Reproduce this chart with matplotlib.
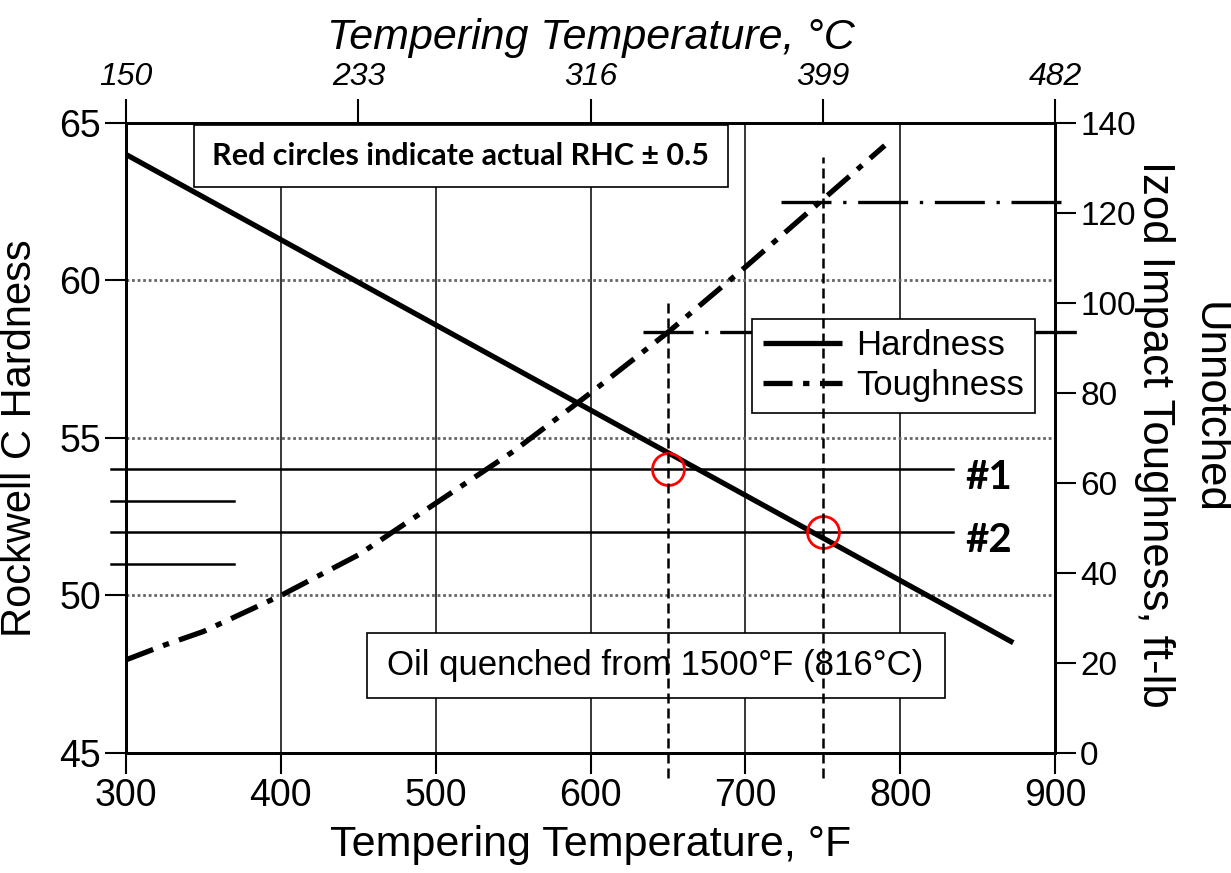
import matplotlib
matplotlib.use('Agg')
import matplotlib.pyplot as plt
from matplotlib.patches import Rectangle

plt.rcParams['font.family'] = ['Liberation Sans', 'DejaVu Sans']

# hardness (Rockwell C) vs tempering temperature, F
hard_temp = [300, 873]
hard_hrc = [64.0, 48.5]

# unnotched izod toughness, ft-lb
tough_temp = [300, 325, 350, 400, 450, 500, 550, 600, 650, 700, 750, 790]
tough_ftlb = [20.7, 24, 27, 35, 44, 55.5, 67, 80, 93.5, 108, 123, 135]

f_ticks = [300, 400, 500, 600, 700, 800, 900]
hrc_ticks = [45, 50, 55, 60, 65]
tough_ticks = [0, 20, 40, 60, 80, 100, 120, 140]
c_tick_pos = [300, 450, 600, 750, 900]
c_tick_labels = ['150', '233', '316', '399', '482']

# spec lines #1 / #2 and the short marks
spec_hrc = [54, 52]
spec_labels = ['#1', '#2']
short_hrc = [53, 51]

# measured points (red circles)
meas_temp = [650, 750]
meas_hrc = [54, 52]
vline_top = [101, 132.5]          # toughness value where the dashed verticals stop
ref_tough = [93.5, 122.5]
ref_xrange = [(634, 917), (723, 906)]

fig = plt.figure(figsize=(12.31, 8.73), dpi=100)
ax = fig.add_axes([0.1024, 0.1375, 0.7547, 0.7216])
ax.set_xlim(300, 900)
ax.set_ylim(45, 65)
ax.set_xticks(f_ticks)
ax.set_yticks(hrc_ticks)
ax.tick_params(labelsize=27, length=15, width=1.5, pad=3)
for s in ax.spines.values():
    s.set_linewidth(2)

for x in f_ticks[1:-1]:
    ax.axvline(x, color='black', lw=1.1, zorder=1)
for y in hrc_ticks[1:-1]:
    ax.axhline(y, color='0.4', lw=2, ls=(0, (1, 1)), zorder=1)

hline, = ax.plot(hard_temp, hard_hrc, color='black', lw=3.8,
                 solid_capstyle='butt', label='Hardness', zorder=3)

for y in spec_hrc:
    ax.plot([290, 834], [y, y], color='black', lw=1.8, clip_on=False, zorder=2)
for y in short_hrc:
    ax.plot([290, 370], [y, y], color='black', lw=1.8, clip_on=False, zorder=2)
for y, lab in zip(spec_hrc, spec_labels):
    ax.text(842, y - 0.25, lab, fontsize=29, family=['Lato', 'DejaVu Sans'],
            fontweight='bold', va='center', ha='left')

ax.plot(meas_temp, meas_hrc, 'o', ms=23, mfc='none', mec='red', mew=2, zorder=5)

ax.set_xlabel('Tempering Temperature, °F', fontsize=31, labelpad=8)
ax.set_ylabel('Rockwell C Hardness', fontsize=30, labelpad=14)

# top axis in Celsius
sec = ax.secondary_xaxis('top')
sec.set_xticks(c_tick_pos, labels=c_tick_labels)
sec.tick_params(labelsize=23, length=17, width=1.5, pad=5)
for t in sec.get_xticklabels():
    t.set_style('italic')
sec.set_xlabel('Tempering Temperature, °C', fontsize=31, style='italic', labelpad=10)

# right axis: toughness
ax2 = ax.twinx()
ax2.set_ylim(0, 140)
ax2.set_yticks(tough_ticks)
ax2.tick_params(labelsize=24, length=15, width=1.5, pad=3)
for s in ax2.spines.values():
    s.set_linewidth(2)

tline, = ax2.plot(tough_temp, tough_ftlb, color='black', lw=3.8,
                  ls=(0, (5.5, 2, 1.2, 2)), label='Toughness', zorder=2)

for yv, (x0, x1) in zip(ref_tough, ref_xrange):
    ax2.plot([x0, x1], [yv, yv], color='black', lw=2.4,
             ls=(0, (15, 3.5, 1, 3.5)), clip_on=False, zorder=2)

for xv, top in zip(meas_temp, vline_top):
    ax2.plot([xv, xv], [-5.5, top], color='black', lw=1.8,
             ls=(0, (4, 2)), clip_on=False, zorder=6)

# right-hand label, two lines placed separately
fig.text(0.938, 0.503, 'Izod Impact Toughness, ft-lb', rotation=270,
         fontsize=31.5, ha='center', va='center')
fig.text(0.982, 0.533, 'Unnotched', rotation=270,
         fontsize=31.5, ha='center', va='center')

# note boxes
ax2.add_patch(Rectangle((344, 62.97), 345, 1.97, transform=ax.transData,
                        fc='white', ec='black', lw=1.2, zorder=4, clip_on=False))
ax2.text(516, 63.95, 'Red circles indicate actual RHC ± 0.5', transform=ax.transData,
         fontsize=22, family=['Lato', 'DejaVu Sans'], fontweight='bold',
         ha='center', va='center', zorder=4.5)

ax2.add_patch(Rectangle((455.5, 46.75), 373.5, 2.06, transform=ax.transData,
                        fc='white', ec='black', lw=1.2, zorder=4))
ax2.text(642, 47.78, 'Oil quenched from 1500°F (816°C)', transform=ax.transData,
         fontsize=25, ha='center', va='center', zorder=4.5)

leg = ax2.legend([hline, tline], ['Hardness', 'Toughness'], loc='upper right',
                 bbox_to_anchor=(0.978, 0.689), fontsize=25, fancybox=False,
                 edgecolor='black', framealpha=1, borderaxespad=0,
                 handlelength=2.3, handletextpad=0.4, labelspacing=0.2,
                 borderpad=0.3)
leg.get_frame().set_linewidth(1.2)

fig.savefig('out.png', dpi=100)
